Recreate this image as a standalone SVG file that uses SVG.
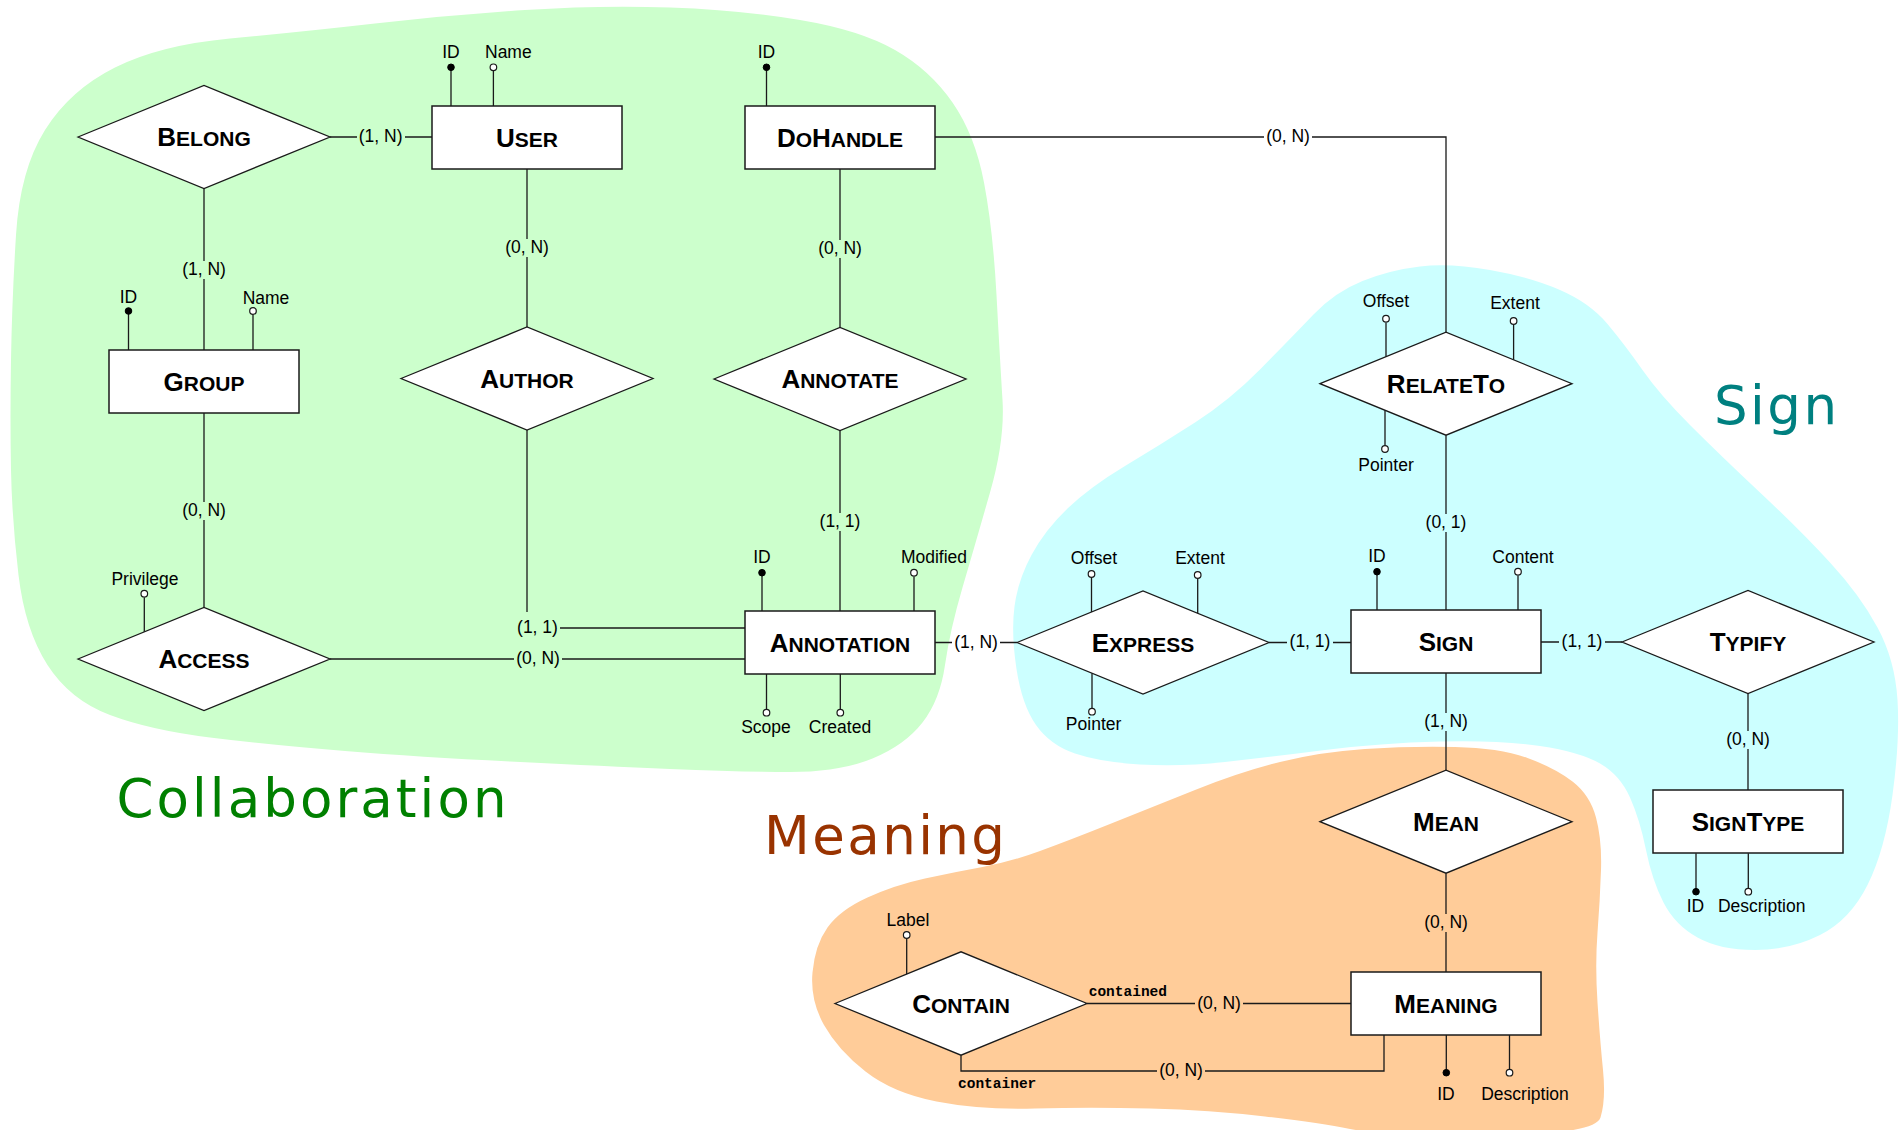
<svg xmlns="http://www.w3.org/2000/svg" width="1903" height="1130" viewBox="0 0 1903 1130">
<style>
.bg{fill:#ffffff}
.ent rect{fill:#ffffff;stroke:#1a1a1a;stroke-width:1.5}
.rel polygon{fill:#ffffff;stroke:#1a1a1a;stroke-width:1.3}
.nm{font-family:"Liberation Sans",Arial,sans-serif;font-weight:bold;font-size:26px;text-anchor:middle;fill:#000}
.sc{font-size:21px}
.conn path{fill:none;stroke:#1a1a1a;stroke-width:1.3}
.att line{stroke:#1a1a1a;stroke-width:1.3}
.pk{fill:#000;stroke:#000;stroke-width:1}
.op{fill:#ffffff;stroke:#1a1a1a;stroke-width:1.2}
.at{font-family:"Liberation Sans",Arial,sans-serif;font-size:17.5px;text-anchor:middle;fill:#000}
.card text{font-family:"Liberation Sans",Arial,sans-serif;font-size:17.5px;text-anchor:middle;fill:#000}
.roles text{font-family:"Liberation Mono","Courier New",monospace;font-weight:bold;font-size:14.5px;text-anchor:start;fill:#000}
.region{font-family:"DejaVu Sans",Verdana,sans-serif;font-size:53px}
.gbg{fill:#CCFFCC}.cbg{fill:#CCFFFF}.obg{fill:#FFCC99}.wbg{fill:#ffffff}
</style>
<rect class="bg" x="0" y="0" width="1903" height="1130"/>
<g id="regions">
<path id="collaboration-area" fill="#CCFFCC" d="M11,360 Q12,300 16,235 Q20,170 45,130 Q70,90 115,67.5 Q160,45 230,38.5 Q300,32 375,23.5 Q450,15 525,10 Q600,5 670,7.5 Q740,10 800,20 Q860,30 895,50 Q930,70 952.5,102.5 Q975,135 984,182.5 Q993,230 996.5,295 Q1000,360 1002.5,400 Q1005,440 990,492.5 Q975,545 962.5,587.5 Q950,630 945,665 Q940,700 922.5,722.5 Q905,745 872.5,758.5 Q840,772 790,772 Q740,772 670,769 Q600,766 510,761.5 Q420,757 345,751 Q270,745 210,737.5 Q150,730 110,715 Q70,700 47.5,665 Q25,630 18.5,575 Q12,520 11,470 Q10,420 11,360 Z"/>
<path id="sign-area" fill="#CCFFFF" d="M1016.5,669 Q1011,633 1014.5,606.5 Q1018,580 1031.5,555 Q1045,530 1067.5,508.5 Q1090,487 1125,466 Q1160,445 1195,422.5 Q1230,400 1261,368.5 Q1292,337 1313.5,314.5 Q1335,292 1362.5,281 Q1390,270 1420,266.5 Q1450,263 1490,270 Q1530,277 1560,290 Q1590,303 1607.5,324 Q1625,345 1642.5,370 Q1660,395 1690,425 Q1720,455 1760,492.5 Q1800,530 1830,562.5 Q1860,595 1877.5,627.5 Q1895,660 1897.5,700 Q1900,740 1892.5,795 Q1885,850 1867.5,885 Q1850,920 1820,935 Q1790,950 1755,950 Q1720,950 1697.5,937.5 Q1675,925 1663.5,902.5 Q1652,880 1646,850 Q1640,820 1630,797.5 Q1620,775 1600,763.5 Q1580,752 1540,746 Q1500,740 1440,741.5 Q1380,743 1325,750 Q1270,757 1225,762 Q1180,767 1140,764.5 Q1100,762 1075,753.5 Q1050,745 1036,725 Q1022,705 1016.5,669 Z"/>
<path id="meaning-area" fill="#FFCC99" d="M824,1025 Q810,1000 812.5,972.5 Q815,945 827.5,927.5 Q840,910 867.5,897.5 Q895,885 925,878.5 Q955,872 982.5,867 Q1010,862 1040,851 Q1070,840 1110,824 Q1150,808 1195,790 Q1240,772 1280,762 Q1320,752 1365,749 Q1410,746 1455,747 Q1500,748 1527.5,758 Q1555,768 1572.5,781.5 Q1590,795 1596,817.5 Q1602,840 1601,870 Q1600,900 1597.5,932.5 Q1595,965 1597.5,1002.5 Q1600,1040 1603,1070 Q1606,1100 1600.5,1117.5 Q1595,1135 1487.5,1135 Q1380,1135 1350,1129 Q1320,1123 1265,1116.5 Q1210,1110 1150,1108.5 Q1090,1107 1035,1108.5 Q980,1110 936.5,1101.5 Q893,1093 865.5,1071.5 Q838,1050 824,1025 Z"/>
<text class="region" x="116.5" y="817" fill="#008000" textLength="390" lengthAdjust="spacing">Collaboration</text>
<text class="region" x="764" y="854" fill="#993300" font-size="52" textLength="241" lengthAdjust="spacing">Meaning</text>
<text class="region" x="1714" y="424" fill="#008080" font-size="52" textLength="123" lengthAdjust="spacing">Sign</text>
</g>
<g id="connectors" class="conn">
<path d="M330,137 H432"/>
<path d="M204,188.5 V350"/>
<path d="M527,169 V327"/>
<path d="M840,169 V327.5"/>
<path d="M935,137 H1446 V332.2"/>
<path d="M204,413 V607.5"/>
<path d="M527,430 V628 H745"/>
<path d="M330,659 H745"/>
<path d="M840,430.5 V611"/>
<path d="M935,642.5 H1017"/>
<path d="M1269,642.5 H1351"/>
<path d="M1541,642 H1622"/>
<path d="M1446,435.2 V610"/>
<path d="M1748,693.5 V790"/>
<path d="M1446,673 V770.2"/>
<path d="M1446,873.2 V972"/>
<path d="M1087,1003.5 H1351"/>
<path d="M961,1055.2 V1071 H1384 V1035"/>
</g>
<g id="cardinalities" class="card">
<rect class="gbg" x="357" y="128" width="48" height="18"/><text x="380.6" y="142">(1, N)</text>
<rect class="gbg" x="180" y="261" width="48" height="18"/><text x="204" y="275">(1, N)</text>
<rect class="gbg" x="503" y="239" width="48" height="18"/><text x="527" y="253">(0, N)</text>
<rect class="gbg" x="816" y="240" width="48" height="18"/><text x="840" y="254">(0, N)</text>
<rect class="wbg" x="1264" y="128" width="48" height="18"/><text x="1288" y="142">(0, N)</text>
<rect class="gbg" x="180" y="502" width="48" height="18"/><text x="204" y="516">(0, N)</text>
<rect class="gbg" x="515" y="612" width="45" height="24"/><text x="537.5" y="632.5">(1, 1)</text>
<rect class="gbg" x="514" y="650" width="48" height="18"/><text x="538" y="664">(0, N)</text>
<rect class="gbg" x="817" y="513" width="46" height="18"/><text x="840" y="527">(1, 1)</text>
<rect class="wbg" x="952" y="633.5" width="48" height="18"/><text x="976" y="647.5">(1, N)</text>
<rect class="cbg" x="1287" y="633" width="46" height="18"/><text x="1310" y="647">(1, 1)</text>
<rect class="cbg" x="1559" y="633" width="46" height="18"/><text x="1582" y="647">(1, 1)</text>
<rect class="cbg" x="1423" y="514" width="46" height="18"/><text x="1446" y="528">(0, 1)</text>
<rect class="cbg" x="1724" y="731" width="48" height="18"/><text x="1748" y="745">(0, N)</text>
<rect class="cbg" x="1422" y="713" width="48" height="18"/><text x="1446" y="727">(1, N)</text>
<rect class="obg" x="1422" y="914" width="48" height="18"/><text x="1446" y="928">(0, N)</text>
<rect class="obg" x="1195" y="994.5" width="48" height="18"/><text x="1219" y="1008.5">(0, N)</text>
<rect class="obg" x="1157" y="1062" width="48" height="18"/><text x="1181" y="1076">(0, N)</text>
</g>
<g id="roles" class="roles">
<text x="1088.7" y="996">contained</text>
<text x="958" y="1088">container</text>
</g>
<g id="attributes" class="att">
<line x1="451" y1="106" x2="451" y2="67.3"/><circle class="pk" cx="451" cy="67.3" r="3.3"/><text class="at" x="451" y="58">ID</text>
<line x1="493.4" y1="106" x2="493.4" y2="70.8"/><circle class="op" cx="493.4" cy="67.3" r="3.3"/><text class="at" x="485" y="58" style="text-anchor:start">Name</text>
<line x1="766.5" y1="106" x2="766.5" y2="67.3"/><circle class="pk" cx="766.5" cy="67.3" r="3.3"/><text class="at" x="766.5" y="58">ID</text>
<line x1="128.5" y1="350" x2="128.5" y2="311"/><circle class="pk" cx="128.5" cy="311" r="3.3"/><text class="at" x="128.5" y="303">ID</text>
<line x1="253" y1="350" x2="253" y2="314.5"/><circle class="op" cx="253" cy="311" r="3.3"/><text class="at" x="266" y="304">Name</text>
<line x1="144.3" y1="631.9" x2="144.3" y2="597.2"/><circle class="op" cx="144.3" cy="593.7" r="3.3"/><text class="at" x="145" y="585">Privilege</text>
<line x1="762" y1="611" x2="762" y2="572.7"/><circle class="pk" cx="762" cy="572.7" r="3.3"/><text class="at" x="762" y="563">ID</text>
<line x1="914" y1="611" x2="914" y2="576.2"/><circle class="op" cx="914" cy="572.7" r="3.3"/><text class="at" x="934" y="563">Modified</text>
<line x1="766.5" y1="674" x2="766.5" y2="709.2"/><circle class="op" cx="766.5" cy="712.7" r="3.3"/><text class="at" x="766" y="733">Scope</text>
<line x1="840.3" y1="674" x2="840.3" y2="709.2"/><circle class="op" cx="840.3" cy="712.7" r="3.3"/><text class="at" x="840" y="733">Created</text>
<line x1="1091.5" y1="612" x2="1091.5" y2="577.5"/><circle class="op" cx="1091.5" cy="574" r="3.3"/><text class="at" x="1094" y="564">Offset</text>
<line x1="1197.7" y1="613.4" x2="1197.7" y2="578.5"/><circle class="op" cx="1197.7" cy="575" r="3.3"/><text class="at" x="1200" y="564">Extent</text>
<line x1="1092" y1="673.2" x2="1092" y2="708.2"/><circle class="op" cx="1092" cy="711.7" r="3.3"/><text class="at" x="1093.6" y="730">Pointer</text>
<line x1="1386" y1="356.7" x2="1386" y2="322.2"/><circle class="op" cx="1386" cy="318.7" r="3.3"/><text class="at" x="1386" y="307">Offset</text>
<line x1="1513.6" y1="359.8" x2="1513.6" y2="324.5"/><circle class="op" cx="1513.6" cy="321" r="3.3"/><text class="at" x="1515" y="309">Extent</text>
<line x1="1385" y1="410.3" x2="1385" y2="445.5"/><circle class="op" cx="1385" cy="449" r="3.3"/><text class="at" x="1386" y="471">Pointer</text>
<line x1="1377" y1="610" x2="1377" y2="571.7"/><circle class="pk" cx="1377" cy="571.7" r="3.3"/><text class="at" x="1377" y="562">ID</text>
<line x1="1518" y1="610" x2="1518" y2="575.2"/><circle class="op" cx="1518" cy="571.7" r="3.3"/><text class="at" x="1523" y="563">Content</text>
<line x1="1696" y1="853.3" x2="1696" y2="891.7"/><circle class="pk" cx="1696" cy="891.7" r="3.3"/><text class="at" x="1695.5" y="911.7">ID</text>
<line x1="1748.3" y1="853.3" x2="1748.3" y2="888.2"/><circle class="op" cx="1748.3" cy="891.7" r="3.3"/><text class="at" x="1761.7" y="911.7">Description</text>
<line x1="1446.3" y1="1035" x2="1446.3" y2="1072.7"/><circle class="pk" cx="1446.3" cy="1072.7" r="3.3"/><text class="at" x="1446" y="1100">ID</text>
<line x1="1509.5" y1="1035" x2="1509.5" y2="1069.2"/><circle class="op" cx="1509.5" cy="1072.7" r="3.3"/><text class="at" x="1525" y="1100">Description</text>
<line x1="906.7" y1="974.1" x2="906.7" y2="938.5"/><circle class="op" cx="906.7" cy="935" r="3.3"/><text class="at" x="908" y="926">Label</text>
</g>
<g id="user" class="ent"><rect x="432" y="106" width="190" height="63"/><text class="nm" x="527" y="146.5">U<tspan class="sc">SER</tspan></text></g>
<g id="dohandle" class="ent"><rect x="745" y="106" width="190" height="63"/><text class="nm" x="840" y="146.5">D<tspan class="sc">O</tspan>H<tspan class="sc">ANDLE</tspan></text></g>
<g id="group" class="ent"><rect x="109" y="350" width="190" height="63"/><text class="nm" x="204" y="390.5">G<tspan class="sc">ROUP</tspan></text></g>
<g id="annotation" class="ent"><rect x="745" y="611" width="190" height="63"/><text class="nm" x="840" y="651.5">A<tspan class="sc">NNOTATION</tspan></text></g>
<g id="sign" class="ent"><rect x="1351" y="610" width="190" height="63"/><text class="nm" x="1446" y="650.5">S<tspan class="sc">IGN</tspan></text></g>
<g id="signtype" class="ent"><rect x="1653" y="790" width="190" height="63"/><text class="nm" x="1748" y="830.5">S<tspan class="sc">IGN</tspan>T<tspan class="sc">YPE</tspan></text></g>
<g id="meaning" class="ent"><rect x="1351" y="972" width="190" height="63"/><text class="nm" x="1446" y="1012.5">M<tspan class="sc">EANING</tspan></text></g>
<g id="belong" class="rel"><polygon points="78,137 204,85.5 330,137 204,188.5"/><text class="nm" x="204" y="146">B<tspan class="sc">ELONG</tspan></text></g>
<g id="author" class="rel"><polygon points="401,378.5 527,327 653,378.5 527,430"/><text class="nm" x="527" y="387.5">A<tspan class="sc">UTHOR</tspan></text></g>
<g id="annotate" class="rel"><polygon points="714,379 840,327.5 966,379 840,430.5"/><text class="nm" x="840" y="388">A<tspan class="sc">NNOTATE</tspan></text></g>
<g id="access" class="rel"><polygon points="78,659 204,607.5 330,659 204,710.5"/><text class="nm" x="204" y="668">A<tspan class="sc">CCESS</tspan></text></g>
<g id="express" class="rel"><polygon points="1017,642.5 1143,591 1269,642.5 1143,694"/><text class="nm" x="1143" y="651.5">E<tspan class="sc">XPRESS</tspan></text></g>
<g id="relateto" class="rel"><polygon points="1320,383.7 1446,332.2 1572,383.7 1446,435.2"/><text class="nm" x="1446" y="392.7">R<tspan class="sc">ELATE</tspan>T<tspan class="sc">O</tspan></text></g>
<g id="typify" class="rel"><polygon points="1622,642 1748,590.5 1874,642 1748,693.5"/><text class="nm" x="1748" y="651">T<tspan class="sc">YPIFY</tspan></text></g>
<g id="mean" class="rel"><polygon points="1320,821.7 1446,770.2 1572,821.7 1446,873.2"/><text class="nm" x="1446" y="830.7">M<tspan class="sc">EAN</tspan></text></g>
<g id="contain" class="rel"><polygon points="835,1003.5 961,951.8 1087,1003.5 961,1055.2"/><text class="nm" x="961" y="1012.5">C<tspan class="sc">ONTAIN</tspan></text></g>
</svg>
